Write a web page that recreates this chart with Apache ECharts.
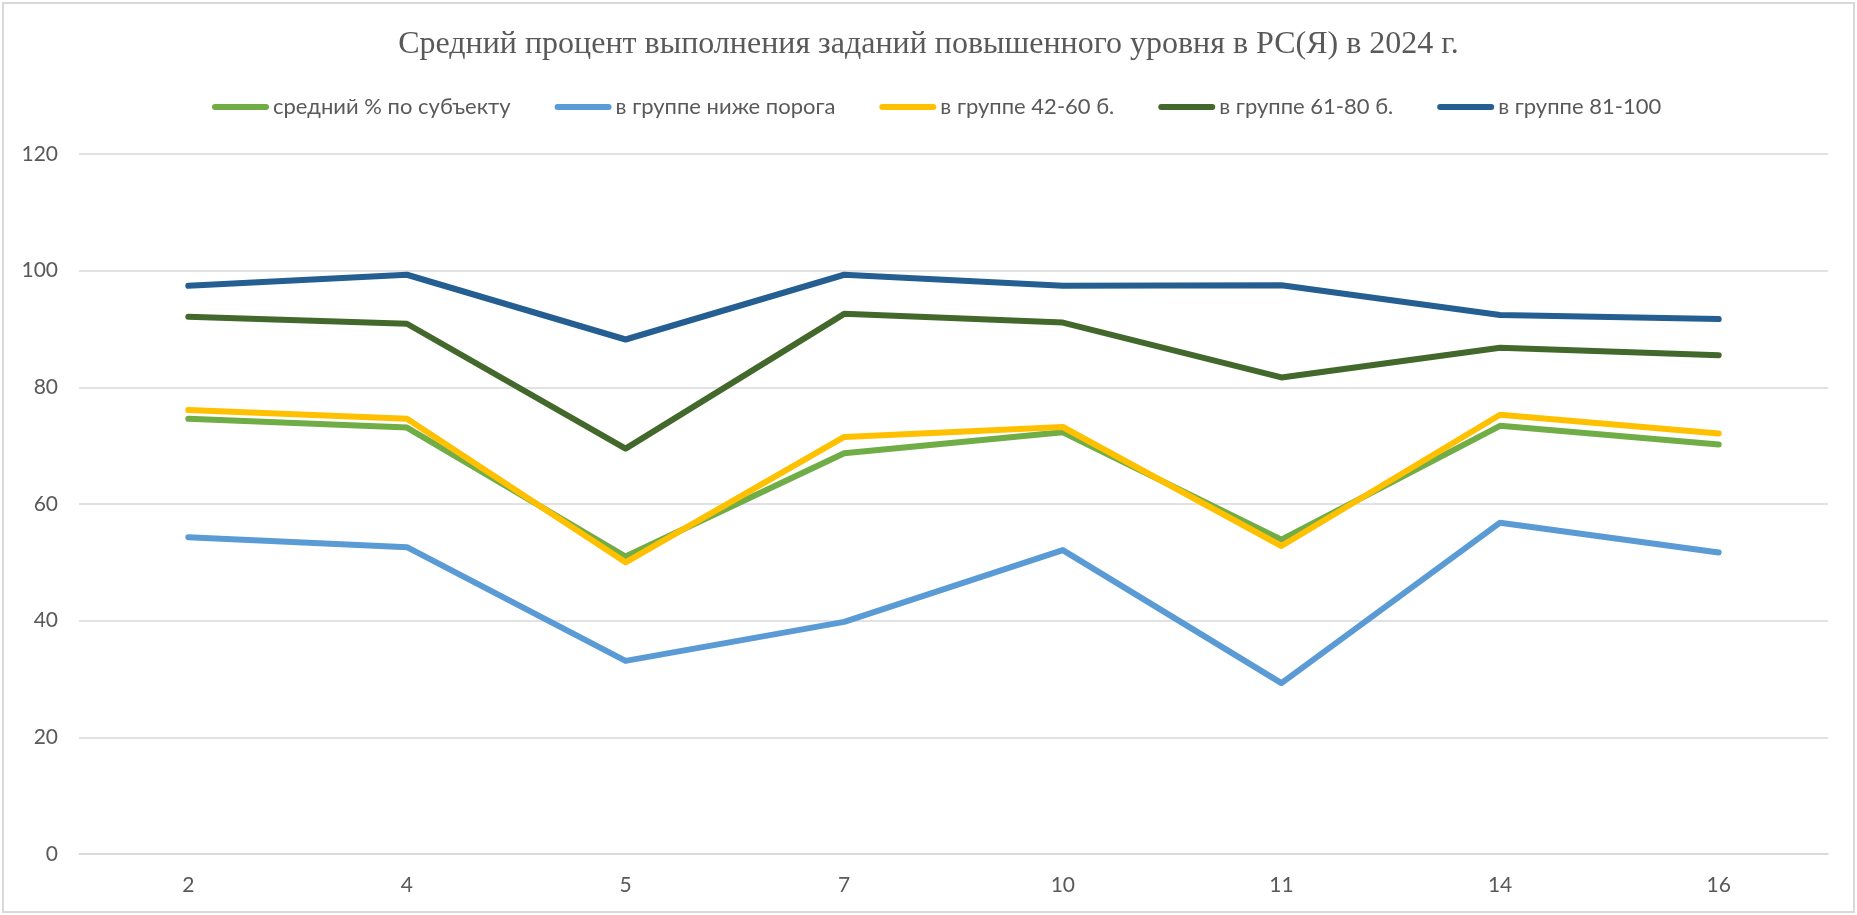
<!DOCTYPE html>
<html>
<head>
<meta charset="utf-8">
<script src="https://cdn.jsdelivr.net/npm/echarts@6/dist/echarts.min.js"></script>
<style>
html,body{margin:0;padding:0;background:#fff;}
#chart{width:1857px;height:915px;}
</style>
</head>
<body>
<div id="chart"></div>
<script>
var titleText = 'Средний процент выполнения заданий повышенного уровня в РС(Я) в 2024 г.';
var categories = ['2', '4', '5', '7', '10', '11', '14', '16'];
var seriesNames = ['средний % по субъекту', 'в группе ниже порога', 'в группе 42-60 б.', 'в группе 61-80 б.', 'в группе 81-100'];
var avgSubject = [74.6, 73.1, 51.0, 68.7, 72.3, 53.9, 73.4, 70.2];
var belowThreshold = [54.3, 52.6, 33.1, 39.8, 52.1, 29.3, 56.8, 51.7];
var group42_60 = [76.1, 74.6, 50.0, 71.5, 73.2, 52.8, 75.3, 72.1];
var group61_80 = [92.1, 90.9, 69.5, 92.6, 91.1, 81.7, 86.8, 85.5];
var group81_100 = [97.4, 99.3, 88.2, 99.3, 97.4, 97.5, 92.4, 91.7];
var yTicks = [0, 20, 40, 60, 80, 100, 120];

var colors = ['#70AD47', '#5B9BD5', '#FFC000', '#43682B', '#255E91'];
var dataSets = [avgSubject, belowThreshold, group42_60, group61_80, group81_100];

var chart = echarts.init(document.getElementById('chart'));
var series = seriesNames.map(function (n, i) {
  return {
    name: n,
    type: 'line',
    data: dataSets[i],
    symbol: 'none',
    showSymbol: false,
    color: colors[i],
    lineStyle: { width: 6, color: colors[i], cap: 'round', join: 'round' },
    animation: false
  };
});

chart.setOption({
  animation: false,
  backgroundColor: '#ffffff',
  color: colors,
  title: {
    text: titleText,
    left: 'center',
    top: 24,
    textStyle: { fontFamily: 'Liberation Serif', fontWeight: 'normal', fontSize: 32, color: '#595959' }
  },
  legend: {
    left: 207,
    top: 91,
    itemWidth: 57,
    itemHeight: 6,
    itemGap: 44,
    icon: 'path://M3,0 L54,0 A3,3 0 0 1 54,6 L3,6 A3,3 0 0 1 3,0 Z',
    textStyle: { fontFamily: 'Lato', fontSize: 22, color: '#595959', padding: [0, 0, 0, -1] },
    data: seriesNames
  },
  grid: { left: 79, right: 29, top: 154, bottom: 61, containLabel: false },
  xAxis: {
    type: 'category',
    data: categories,
    boundaryGap: true,
    axisLine: { show: true, lineStyle: { color: '#D9D9D9', width: 1.5 } },
    axisTick: { show: false },
    axisLabel: { fontFamily: 'Lato', fontSize: 21, color: '#595959', margin: 21 }
  },
  yAxis: {
    type: 'value',
    min: yTicks[0],
    max: yTicks[yTicks.length - 1],
    interval: yTicks[1] - yTicks[0],
    axisLine: { show: false },
    axisTick: { show: false },
    axisLabel: { fontFamily: 'Lato', fontSize: 21, color: '#595959', margin: 21 },
    splitLine: { show: true, lineStyle: { color: '#D9D9D9', width: 1.5 } }
  },
  graphic: [{
    type: 'rect',
    shape: { x: 3, y: 3, width: 1851, height: 909 },
    style: { fill: 'none', stroke: '#D9D9D9', lineWidth: 2 },
    silent: true,
    z: -1
  }],
  series: series
});
</script>
</body>
</html>
